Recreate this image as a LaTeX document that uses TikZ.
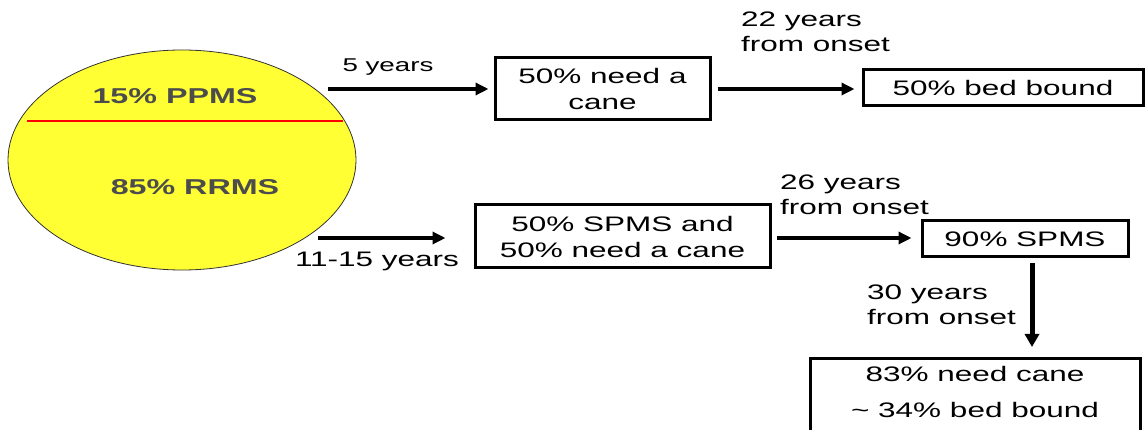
\documentclass[tikz,border=0pt]{standalone}
\usepackage{fontspec}
\setmainfont{Liberation Sans}[FakeStretch=1.5]
\usetikzlibrary{arrows.meta,shapes.geometric}
\begin{document}
\begin{tikzpicture}[x=1pt,y=-1pt,
  boxt/.style={draw=black,line width=3pt,align=center,inner sep=0pt,
    font=\fontsize{21}{26}\selectfont},
  lbl/.style={inner sep=0pt,align=left,font=\fontsize{21}{25}\selectfont},
  ell/.style={inner sep=0pt,text=black!70,font=\fontsize{21.5}{26}\selectfont\bfseries},
  arr/.style={line width=4pt,-{Triangle[length=13pt,width=12pt]}}]
\useasboundingbox (0,0) rectangle (1146,430);
% ellipse
\node[ellipse,draw=black!80,line width=0.8pt,fill={rgb,255:red,255;green,255;blue,51},
  minimum width=348pt,minimum height=220pt,inner sep=0pt] (ov) at (182,160) {};
\coordinate (rl) at (27,121);
\coordinate (rr) at (343,121);
\draw[red,line width=2.5pt] (rl) -- (rr);
\node[ell] (pp) at (175,96) {15\% PPMS};
\node[ell] (rr2) at (195,187) {85\% RRMS};
% boxes
\node[boxt,minimum width=215pt,minimum height=62pt] (b1) at (602.5,89) {50\% need a\\cane};
\node[boxt,minimum width=280pt,minimum height=36pt] (b2) at (1003,88) {50\% bed bound};
\node[boxt,minimum width=295pt,minimum height=63pt] (b3) at (622.5,236.5) {50\% SPMS and\\50\% need a cane};
\node[boxt,minimum width=206pt,minimum height=36pt] (b4) at (1025,239) {90\% SPMS};
\draw[line width=3pt] (810,460) |- (1140,358) -- (1140,460);
\coordinate (b5top) at (1032,358);
\node[inner sep=0pt,font=\fontsize{21}{26}\selectfont] (t5a) at (975,374) {83\% need cane};
\node[inner sep=0pt,font=\fontsize{21}{26}\selectfont] (t5b) at (975,410) {\char`~\ 34\% bed bound};
% arrows
\coordinate (s1) at (328,89);
\coordinate (s3) at (318,238);
\draw[arr,shorten >=5pt] (s1) -- (b1.west|-s1);
\draw[arr,shorten <=6pt,shorten >=7pt] (b1.east|-s1) -- (b2.west|-s1);
\draw[arr,shorten >=28pt] (s3) -- (b3.west|-s3);
\draw[arr,shorten <=5pt,shorten >=9pt] (b3.east|-s3) -- (b4.west|-s3);
\draw[line width=5pt,-{Triangle[length=13pt,width=14pt]},shorten <=5pt,shorten >=11pt] (b4.south-|b5top) -- (b5top);
% labels
\node[lbl,font=\fontsize{18.5}{25}\selectfont] (l1) at (388,67) {5 years};
\node[lbl,anchor=north west] (l2) at (741,12) {22 years\\from onset};
\node[lbl] (l3) at (377,261) {11-15 years};
\node[lbl,anchor=north west] (l4) at (780,175) {26 years\\from onset};
\node[lbl,anchor=north west] (l5) at (867,285) {30 years\\from onset};
\end{tikzpicture}
\end{document}
